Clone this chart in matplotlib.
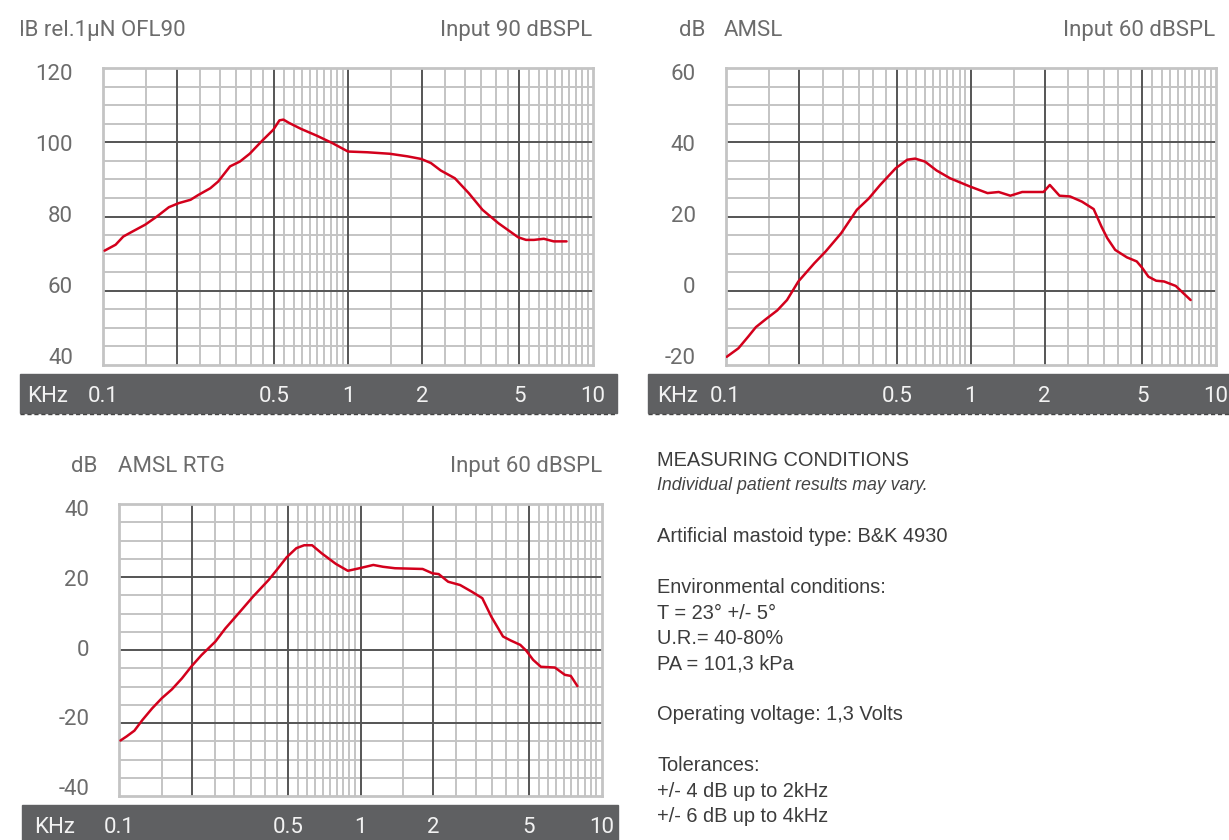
import matplotlib
matplotlib.use('Agg')
import matplotlib.pyplot as plt
from matplotlib.patches import Rectangle
from matplotlib.lines import Line2D
from matplotlib.transforms import Bbox

plt.rcParams['axes.unicode_minus'] = False

# OFL90 curve (kHz, dB rel. 1uN)
ofl_f = [0.1015, 0.1126, 0.121, 0.1306, 0.1487, 0.166, 0.1857, 0.2037, 0.2277, 0.245,
         0.274, 0.295, 0.33, 0.362, 0.397, 0.443, 0.496, 0.525, 0.545, 0.575,
         0.643, 0.744, 0.862, 1.0, 1.2, 1.48, 1.75, 1.99, 2.18, 2.39,
         2.73, 3.11, 3.54, 4.11, 4.95, 5.33, 5.74, 6.30, 6.91, 7.8]
ofl_db = [70.8, 72.4, 74.6, 75.8, 77.8, 80.0, 82.5, 83.6, 84.5, 85.8,
          87.6, 89.4, 93.5, 94.8, 96.9, 100.2, 103.4, 105.9, 106.1, 105.2,
          103.6, 101.8, 99.8, 97.5, 97.3, 96.9, 96.2, 95.5, 94.4, 92.4,
          90.3, 86.3, 81.8, 78.2, 74.4, 73.7, 73.7, 74.0, 73.3, 73.3]

# AMSL curve, input 60 dBSPL
amsl_f = [0.101, 0.1128, 0.1235, 0.1329, 0.1456, 0.1624, 0.178, 0.198, 0.23, 0.256,
          0.296, 0.343, 0.383, 0.427, 0.494, 0.551, 0.593, 0.65, 0.725, 0.823,
          0.99, 1.17, 1.30, 1.45, 1.62, 1.98, 2.1, 2.30, 2.54, 2.84,
          3.17, 3.41, 3.60, 3.88, 4.33, 4.75, 5.01, 5.30, 5.70, 6.14,
          6.85, 7.37, 7.88]
amsl_db = [-17.8, -15.5, -12.4, -9.8, -7.7, -5.3, -2.5, 2.5, 7.4, 10.6,
           15.5, 21.8, 24.8, 28.5, 33.0, 35.3, 35.6, 34.8, 32.4, 30.3,
           28.1, 26.3, 26.6, 25.6, 26.6, 26.6, 28.5, 25.6, 25.4, 24.0,
           22.0, 17.3, 14.2, 11.0, 9.0, 7.9, 6.1, 3.8, 2.7, 2.5,
           1.3, -0.7, -2.5]

# AMSL RTG curve, input 60 dBSPL
rtg_f = [0.101, 0.107, 0.1154, 0.1245, 0.1367, 0.150, 0.165, 0.1816, 0.1995, 0.219,
         0.25, 0.275, 0.308, 0.358, 0.416, 0.449, 0.494, 0.542, 0.584, 0.63,
         0.69, 0.79, 0.886, 0.99, 1.13, 1.24, 1.39, 1.81, 1.99, 2.11,
         2.31, 2.59, 2.89, 3.2, 3.49, 3.9, 4.2, 4.6, 4.87, 5.2,
         5.6, 6.4, 7.04, 7.45, 7.94]
rtg_db = [-24.8, -23.7, -22.1, -19.2, -16.0, -13.2, -10.8, -7.8, -4.4, -1.4,
          2.3, 5.9, 9.6, 14.6, 19.2, 21.9, 25.4, 27.9, 28.7, 28.7,
          26.5, 23.6, 21.7, 22.4, 23.3, 22.8, 22.4, 22.2, 21.0, 20.8,
          18.7, 17.8, 16.0, 14.2, 9.1, 3.7, 2.6, 1.4, -0.2, -2.7,
          -4.6, -4.8, -6.8, -7.1, -9.9]

freq_ticks = [0.1, 0.5, 1, 2, 5, 10]
freq_labels = ['0.1', '0.5', '1', '2', '5', '10']
major_f = [0.2, 0.5, 1, 2, 5]
minor_f = [d * m for d in (0.1, 1) for m in (1.5, 2.5, 3, 3.5, 4, 4.5, 5.5, 6, 6.5, 7, 7.5, 8, 8.5, 9, 9.5)]

conditions = ["MEASURING CONDITIONS", "Individual patient results may vary.", "",
              "Artificial mastoid type: B&K 4930", "",
              "Environmental conditions:", "T = 23° +/- 5°", "U.R.= 40-80%", "PA = 101,3 kPa", "",
              "Operating voltage: 1,3 Volts", "",
              "Tolerances:", "+/- 4 dB up to 2kHz", "+/- 6 dB up to 4kHz"]

RED = '#d3001c'
LIGHT = '#c4c4c4'
DARK = '#555555'
GREY = '#6c6c6c'
BAR = '#5f6062'
FONT = 'Roboto'

W, H = 1229, 840
fig = plt.figure(figsize=(W / 100, H / 100), dpi=100)


def box(l, t, r, b):
    return [l / W, 1 - b / H, (r - l) / W, (b - t) / H]


def panel(plot_px, bar_px, ylim, f, db, titles, right_txt, right_x, title_y, khz_x, dashed):
    ax = fig.add_axes(box(*plot_px))
    ax.set_xscale('log')
    ax.set_xlim(0.1, 10)
    ax.set_ylim(*ylim)
    for x in minor_f:
        ax.axvline(x, color=LIGHT, lw=1.4, zorder=1)
    for y in range(ylim[0] + 5, ylim[1], 5):
        ax.axhline(y, color=LIGHT, lw=1.4, zorder=1)
    for x in major_f:
        ax.axvline(x, color=DARK, lw=1.4, zorder=2)
    for y in range(ylim[0] + 20, ylim[1], 20):
        ax.axhline(y, color=DARK, lw=1.4, zorder=2)
    ax.plot(f, db, color=RED, lw=1.8, zorder=3, solid_capstyle='round')

    ax.tick_params(axis='both', which='both', length=0, labelbottom=False, labelleft=False)
    ax.set_yticks([])
    for s in ax.spines.values():
        s.set_color(LIGHT)
        s.set_linewidth(2)

    # y labels sit slightly inward from their grid lines, as in the print
    span = ylim[1] - ylim[0]
    for v in range(ylim[0], ylim[1] + 1, 20):
        frac = (v - ylim[0]) / span
        dy = 6.5 - 13 * (1 - frac)
        ax.annotate(str(v), xy=(0, v), xycoords=('axes fraction', 'data'),
                    xytext=(-30, -dy), textcoords='offset pixels', ha='right', va='center',
                    color=GREY, fontsize=16, family=FONT, annotation_clip=False)

    l, t, r, b = bar_px
    fig.add_artist(Rectangle((l / W, 1 - b / H), (r - l) / W, (b - t) / H,
                             transform=fig.transFigure, color=BAR, zorder=-1))
    if dashed:
        fig.add_artist(Line2D([l / W, r / W], [1 - (b + 1) / H] * 2, transform=fig.transFigure,
                              color='#444444', lw=1, linestyle=(0, (3, 2))))
    yc = H - (t + b) / 2 - 2.5
    fig.text(khz_x / W, yc / H, 'KHz', ha='left', va='center', color='#f2f2f2',
             fontsize=16, family=FONT)
    for x, lab in zip(freq_ticks, freq_labels):
        ax.annotate(lab, xy=(x, yc), xycoords=('data', 'figure pixels'), ha='center', va='center',
                    color='#f2f2f2', fontsize=16, family=FONT, annotation_clip=False)

    ty = 1 - (title_y + 2.5) / H
    for txt, x, clip in titles:
        tt = fig.text(x / W, ty, txt, ha='left', va='center', color=GREY,
                      fontsize=16, family=FONT)
        if clip is not None:
            tt.set_clip_box(Bbox.from_extents(clip, 0, W, H))
            tt.set_clip_on(True)
    fig.text(right_x / W, ty, right_txt, ha='right', va='center',
             color=GREY, fontsize=16, family=FONT)
    return ax


panel((103, 68, 593, 365), (20, 374, 617, 413), (40, 120), ofl_f, ofl_db,
      [('dB rel.1µN OFL90', 12, 20.9)], 'Input 90 dBSPL', 592, 28, 27, True)
panel((725.6, 68, 1216, 365), (648, 374, 1229, 413), (-20, 60), amsl_f, amsl_db,
      [('dB', 679, None), ('AMSL', 724, None)], 'Input 60 dBSPL', 1215, 28, 657, True)
panel((119.4, 504, 601.6, 796), (22.5, 805, 618, 845), (-40, 40), rtg_f, rtg_db,
      [('dB', 71, None), ('AMSL RTG', 118, None)], 'Input 60 dBSPL', 602, 464, 34, False)

for i, line in enumerate(conditions):
    y = 460.5 + i * 25.45
    if i == 1:
        fig.text(657 / W, 1 - y / H, line, ha='left', va='center', color='#444444',
                 fontsize=12.8, style='italic', family='Liberation Sans')
    else:
        fig.text(657 / W, 1 - y / H, line, ha='left', va='center', color='#3c3c3c',
                 fontsize=14.4, family='Liberation Sans')

fig.savefig('out.png', dpi=100)
